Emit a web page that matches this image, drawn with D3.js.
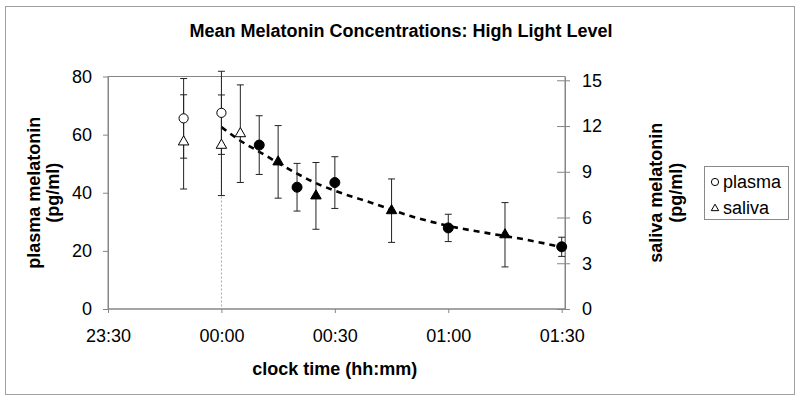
<!DOCTYPE html>
<html>
<head>
<meta charset="utf-8">
<script src="https://cdn.jsdelivr.net/npm/d3@7"></script>
<style>
  body { margin: 0; background: #fff; }
  svg { display: block; font-family: "Liberation Sans", Arial, sans-serif; }
</style>
</head>
<body>
<div id="chart"></div>
<script>
// plasma (left axis, pg/ml)
const plasmaTimes = ["23:50", "00:00", "00:10", "00:20", "00:30", "01:00", "01:30"];
const plasmaMean  = [65.6, 67.5, 56.4, 41.9, 43.5, 27.9, 21.4];
const plasmaErr   = [13.7, 14.3, 10.1, 8.2, 8.9, 4.7, 3.3];
const plasmaPre   = [true, true, false, false, false, false, false];

// saliva (right axis, pg/ml)
const salivaTimes = ["23:50", "00:00", "00:05", "00:15", "00:25", "00:45", "01:15"];
const salivaMean  = [10.96, 10.74, 11.5, 9.65, 7.42, 6.45, 4.87];
const salivaErr   = [3.09, 3.3, 3.2, 2.38, 2.19, 2.08, 2.11];
const salivaPre   = [true, true, true, false, false, false, false];

// dashed trend line (plasma units)
const fitTimes  = ["00:00", "00:05", "00:10", "00:15", "00:20", "00:25", "00:30", "00:40", "00:50", "01:00", "01:10", "01:20", "01:30"];
const fitValues = [62.6, 57.9, 54.1, 50.3, 46.6, 43.3, 40.7, 36.4, 32.0, 28.6, 26.2, 24.0, 21.3];

const xTicks = ["23:30", "00:00", "00:30", "01:00", "01:30"];
const leftTicks = [0, 20, 40, 60, 80];
const rightTicks = [0, 3, 6, 9, 12, 15];

const parseHM = d3.timeParse("%H:%M");
function toTime(s) {
    const d = parseHM(s);
    return d.getHours() < 12 ? d3.timeDay.offset(d, 1) : d;
}

const width = 800, height = 401;
const plotLeft = 108, plotRight = 565, plotTop = 76.5, plotBottom = 309;
const axisGray = "#868686";

const svg = d3.select("#chart").append("svg")
    .attr("width", width)
    .attr("height", height);

// outer chart border
svg.append("rect")
    .attr("x", 5.5).attr("y", 6.5)
    .attr("width", 789).attr("height", 388)
    .attr("fill", "none").attr("stroke", "#a0a0a0");

const x = d3.scaleTime()
    .domain([toTime("23:30"), toTime("01:30")])
    .range([plotLeft, 561.7]);
const yL = d3.scaleLinear().domain([0, 80]).range([plotBottom, plotTop]);
const yR = d3.scaleLinear().domain([0, 15.25]).range([plotBottom, plotTop]);

// plot area frame
svg.append("rect")
    .attr("x", plotLeft).attr("y", plotTop)
    .attr("width", plotRight - plotLeft).attr("height", plotBottom - plotTop)
    .attr("fill", "none").attr("stroke", axisGray);

// dotted line at midnight
svg.append("line")
    .attr("x1", x(toTime("00:00"))).attr("x2", x(toTime("00:00")))
    .attr("y1", plotTop).attr("y2", plotBottom)
    .attr("stroke", "#a8a8a8").attr("stroke-dasharray", "2,2");

function styleAxis(g) {
    g.select(".domain").attr("stroke", axisGray);
    g.selectAll(".tick line").attr("stroke", axisGray);
    g.selectAll(".tick text").attr("fill", "#000").style("font-size", "18px");
}

svg.append("g")
    .attr("transform", `translate(${plotLeft},0)`)
    .call(d3.axisLeft(yL).tickValues(leftTicks).tickSize(5).tickPadding(11).tickSizeOuter(0))
    .call(styleAxis);

svg.append("g")
    .attr("transform", `translate(0,${plotBottom})`)
    .call(d3.axisBottom(x).tickValues(xTicks.map(toTime)).tickFormat(d3.timeFormat("%H:%M"))
        .tickSize(4).tickPadding(16).tickSizeOuter(0))
    .call(styleAxis)
    .call(g => g.select(".domain").attr("d", `M${plotLeft},0H${plotRight}`));

const rAxis = svg.append("g")
    .attr("transform", `translate(${plotRight},0)`)
    .call(d3.axisRight(yR).tickValues(rightTicks).tickSize(5).tickPadding(12).tickSizeOuter(0))
    .call(styleAxis);
rAxis.selectAll(".tick").append("line")
    .attr("x1", -8).attr("x2", 0)
    .attr("stroke", axisGray);

// trend line
const fitData = fitTimes.map((t, i) => ({ t: toTime(t), v: fitValues[i] }));
svg.append("path")
    .datum(fitData)
    .attr("fill", "none")
    .attr("stroke", "#000")
    .attr("stroke-width", 2.6)
    .attr("stroke-dasharray", "6,5")
    .attr("d", d3.line().x(d => x(d.t)).y(d => yL(d.v)).curve(d3.curveMonotoneX));

const plasma = plasmaTimes.map((t, i) => ({ t: toTime(t), v: plasmaMean[i], e: plasmaErr[i], pre: plasmaPre[i] }));
const saliva = salivaTimes.map((t, i) => ({ t: toTime(t), v: salivaMean[i], e: salivaErr[i], pre: salivaPre[i] }));

function errorBars(data, y) {
    const g = svg.append("g").attr("stroke", "#222").attr("stroke-width", 1);
    data.forEach(d => {
        const cx = x(d.t), y0 = y(d.v - d.e), y1 = y(d.v + d.e);
        g.append("line").attr("x1", cx).attr("x2", cx).attr("y1", y0).attr("y2", y1);
        g.append("line").attr("x1", cx - 3.5).attr("x2", cx + 3.5).attr("y1", y0).attr("y2", y0);
        g.append("line").attr("x1", cx - 3.5).attr("x2", cx + 3.5).attr("y1", y1).attr("y2", y1);
    });
}
errorBars(plasma, yL);
errorBars(saliva, yR);

svg.append("g").selectAll("circle")
    .data(plasma)
    .join("circle")
    .attr("cx", d => x(d.t))
    .attr("cy", d => yL(d.v))
    .attr("r", d => d.pre ? 4.6 : 5)
    .attr("fill", d => d.pre ? "#fff" : "#000")
    .attr("stroke", "#000");

const tri = d3.symbol(d3.symbolTriangle, 48);
svg.append("g").selectAll("path")
    .data(saliva)
    .join("path")
    .attr("transform", d => `translate(${x(d.t)},${yR(d.v)})`)
    .attr("d", tri)
    .attr("fill", d => d.pre ? "#fff" : "#000")
    .attr("stroke", "#000");

// titles
svg.append("text")
    .attr("x", 401).attr("y", 37)
    .attr("text-anchor", "middle")
    .style("font-size", "18px").style("font-weight", "bold")
    .text("Mean Melatonin Concentrations: High Light Level");

svg.append("text")
    .attr("x", (plotLeft + 561.7) / 2).attr("y", 375)
    .attr("text-anchor", "middle")
    .style("font-size", "18px").style("font-weight", "bold")
    .text("clock time (hh:mm)");

const midY = (plotTop + plotBottom) / 2;
[["plasma melatonin", 40], ["(pg/ml)", 59], ["saliva melatonin", 662], ["(pg/ml)", 682]].forEach(([s, bx]) => {
    svg.append("text")
        .attr("transform", `translate(${bx},${midY}) rotate(-90)`)
        .attr("text-anchor", "middle")
        .style("font-size", "18px").style("font-weight", "bold")
        .text(s);
});

// legend
const lg = svg.append("g");
lg.append("rect")
    .attr("x", 704.5).attr("y", 166.5)
    .attr("width", 84).attr("height", 53)
    .attr("fill", "#fff").attr("stroke", "#8a8a8a");
lg.append("circle")
    .attr("cx", 715).attr("cy", 182).attr("r", 3.6)
    .attr("fill", "#fff").attr("stroke", "#000");
lg.append("path")
    .attr("transform", "translate(715,208.5)")
    .attr("d", d3.symbol(d3.symbolTriangle, 24))
    .attr("fill", "#fff").attr("stroke", "#000");
lg.append("text").attr("x", 723).attr("y", 188).style("font-size", "18px").text("plasma");
lg.append("text").attr("x", 723).attr("y", 214).style("font-size", "18px").text("saliva");
</script>
</body>
</html>
